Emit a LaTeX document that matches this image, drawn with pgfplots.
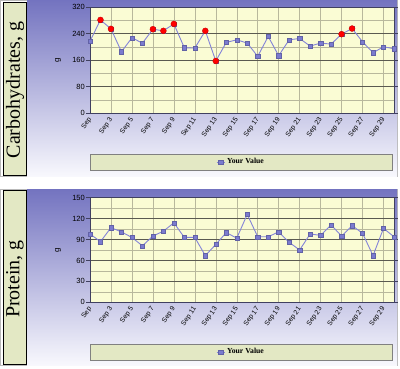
\documentclass[border=0pt]{standalone}
\usepackage{fontspec}
\setmainfont{Liberation Serif}
\setsansfont{Liberation Sans}
\usepackage{pgfplots}
\pgfplotsset{compat=1.18}
\definecolor{plotbg}{HTML}{FAFCD4}
\definecolor{band}{HTML}{D3D9A2}
\definecolor{boxfill}{HTML}{E3E8C4}
\definecolor{gradtop}{HTML}{7474C0}
\definecolor{gradbot}{HTML}{F8F8FD}
\definecolor{linecol}{HTML}{8383D8}
\definecolor{markcol}{HTML}{7B7BCF}
\definecolor{majgrid}{HTML}{5A5A50}
\definecolor{mingrid}{HTML}{B8B89C}
\definecolor{axcol}{HTML}{404060}
\pgfdeclarelayer{bg}
\pgfplotsset{layers/mine/.define layer set={bg,axis background,axis grid,axis ticks,axis lines,axis tick labels,pre main,main,axis descriptions,axis foreground}{}}
\pgfplotsset{
  panel/.style={
    set layers=mine,
    scale only axis, width=304pt,
    xmin=1, xmax=30, ymin=0,
    axis background/.style={fill=plotbg},
    axis line style={axcol, line width=0.6pt},
    xtick={1,3,...,29},
    xticklabels={{Sep},{Sep 3},{Sep 5},{Sep 7},{Sep 9},{Sep 11},{Sep 13},{Sep 15},{Sep 17},{Sep 19},{Sep 21},{Sep 23},{Sep 25},{Sep 27},{Sep 29}},
    xmajorgrids, ymajorgrids, yminorgrids,
    major x grid style={mingrid, line width=0.5pt},
    major y grid style={majgrid, line width=0.6pt},
    minor y grid style={mingrid, line width=0.5pt},
    xtick style={draw=none},
    ytick style={axcol, line width=0.5pt},
    tick align=outside, major tick length=4pt, minor tick length=0pt,
    /pgf/number format/assume math mode=true,
    yticklabel style={font=\sffamily\fontsize{7.5}{8}\selectfont, inner sep=1pt},
    xticklabel style={font=\sffamily\fontsize{6.8}{8}\selectfont, rotate=55, anchor=east, inner sep=1pt, yshift=-1pt},
    every axis y label/.style={at={(rel axis cs:0,0.5)}, anchor=center, rotate=90, yshift=32pt, font=\sffamily\fontsize{8}{9}\selectfont},
    ylabel={g},
    legend style={draw=none, fill=none, anchor=center, font=\bfseries\fontsize{7.7}{9}\selectfont, inner sep=0pt},
    legend image code/.code={\draw[mark repeat=2,mark phase=2,##1] plot coordinates {(0cm,0cm) (0.14cm,0cm) (0.28cm,0cm)};},
  },
  valline/.style={color=linecol, line width=0.9pt, mark=square*, mark size=2.1pt, mark options={fill=markcol, draw=markcol!80!black, line width=0.3pt}},
  redpts/.style={only marks, mark=*, mark size=3pt, mark options={fill=red, draw=red!75!black, line width=0.3pt}, forget plot},
}
\begin{document}
\begin{tikzpicture}[x=1pt,y=1pt]
% ---------- Carbohydrates ----------
\begin{axis}[panel, at={(90pt,255pt)}, anchor=south west, height=106pt,
  ymax=320, ytick={0,80,...,320}, minor ytick={40,120,...,280},
  legend style={at={(0.497,-0.462)}}]
\addplot[draw=none, fill=band, on layer=axis background, forget plot] coordinates {(1,163) (30,163) (30,236) (1,236)};
\addplot[valline] coordinates {
(1,217) (2,281) (3,254) (4,185) (5,227) (6,211) (7,253) (8,248) (9,269) (10,197)
(11,196) (12,248) (13,157) (14,213) (15,221) (16,211) (17,171) (18,231) (19,173) (20,221)
(21,225) (22,202) (23,211) (24,208) (25,238) (26,255) (27,215) (28,182) (29,200) (30,194)};
\addlegendentry{Your Value}
\addplot[redpts] coordinates {(2,281) (3,254) (7,253) (8,248) (9,269) (12,248) (13,157) (25,238) (26,255)};
\end{axis}
% ---------- Protein ----------
\begin{axis}[panel, at={(90pt,65.7pt)}, anchor=south west, height=104.6pt,
  ymax=150, ytick={0,30,...,150}, minor ytick={15,45,...,135},
  legend style={at={(0.497,-0.475)}}]
\addplot[draw=none, fill=band, on layer=axis background, forget plot] coordinates {(1,60) (30,60) (30,128) (1,128)};
\addplot[valline] coordinates {
(1,98) (2,87) (3,107) (4,101) (5,93) (6,81) (7,95) (8,102) (9,114) (10,93)
(11,93) (12,67) (13,83) (14,100) (15,92) (16,126) (17,94) (18,94) (19,101) (20,86)
(21,75) (22,98) (23,96) (24,111) (25,95) (26,110) (27,99) (28,67) (29,106) (30,94)};
\addlegendentry{Your Value}
\end{axis}
% ---------- decorations ----------
\begin{pgfonlayer}{bg}
\draw[gray!55, line width=0.6pt] (0.5,191.5) rectangle (397.5,367.5);
\shade[top color=gradtop, bottom color=gradbot] (27,192) rectangle (397,367.2);
\draw[black, line width=0.8pt, fill=boxfill] (3,192.5) rectangle (26.5,366);
\draw[gray, line width=0.6pt, fill=boxfill] (90,198) rectangle (392,214);
\draw[gray!55, line width=0.6pt] (0.5,2.5) rectangle (397.5,178.5);
\shade[top color=gradtop, bottom color=gradbot] (27,3) rectangle (397,178.2);
\draw[black, line width=0.8pt, fill=boxfill] (3,3.5) rectangle (26.5,177.5);
\draw[gray, line width=0.6pt, fill=boxfill] (90,8) rectangle (392,24);
\end{pgfonlayer}
\node[rotate=90, font=\fontsize{20}{22}\selectfont] at (15,278) {Carbohydrates, g};
\node[rotate=90, font=\fontsize{20}{22}\selectfont] at (15,89) {Protein, g};
\pgfresetboundingbox
\path[use as bounding box] (0,0) rectangle (400,368);
\end{tikzpicture}
\end{document}
